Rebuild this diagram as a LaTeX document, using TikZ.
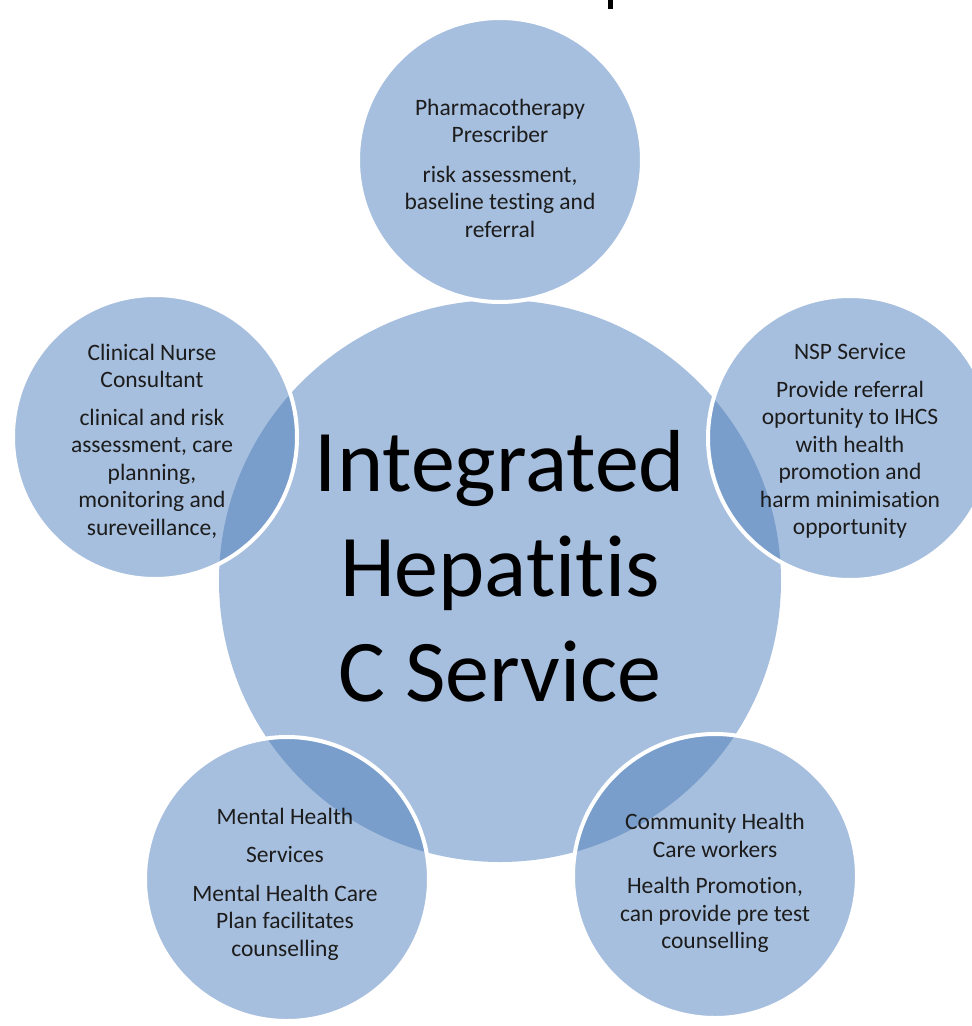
\documentclass[tikz,border=0pt]{standalone}
\usepackage{fontspec}
\setmainfont{Carlito}[Ligatures={NoCommon,NoContextual}]
\usetikzlibrary{calc}
\definecolor{hcblue}{RGB}{167,191,222}
\definecolor{hcdeep}{RGB}{122,158,203}
\definecolor{hctext}{RGB}{28,28,28}
\tikzset{
  satlabel/.style={align=center, text=hctext, inner sep=0pt, font=\fontsize{23.5}{27.5}\selectfont},
  hublabel/.style={align=center, text=black, inner sep=0pt, font=\fontsize{88}{105}\selectfont},
}
\newcommand\hcsats{500/160,155/437,850/438,287/879,715/876}

\begin{document}
\begin{tikzpicture}[x=1pt, y=-1pt, line join=round]
\useasboundingbox (0,0) rectangle (972,1026);
\coordinate (hub) at (500,581);
\fill[hcblue] (hub) circle (281pt);
\foreach \cx/\cy in \hcsats
  \fill[hcblue] (\cx,\cy) circle (142pt);
% overlaps with the hub
\begin{scope}
\clip (hub) circle (281pt);
\foreach \cx/\cy in \hcsats
  \fill[hcdeep] (\cx,\cy) circle (142pt);
\end{scope}
\foreach \cx/\cy in \hcsats
  \draw[white, line width=4pt] (\cx,\cy) circle (142pt);
% cut-off title stroke
\fill[black] (608,0) rectangle (613,9);
\node[hublabel] (hubtext) at (500,566) {Integrated\\Hepatitis\\C Service};
\node[satlabel] (pharm) at (500,168) {Pharmacotherapy\\Prescriber\\[12pt]risk assessment,\\baseline testing and\\referral};
\node[satlabel] (cnc) at (152,441) {Clinical Nurse\\Consultant\\[10pt]clinical and risk\\assessment, care\\planning,\\monitoring and\\sureveillance,};
\node[satlabel] (nsp) at (850,441) {NSP Service\\[10pt]Provide referral\\oportunity to IHCS\\with health\\promotion and\\harm minimisation\\opportunity};
\node[satlabel] (mhs) at (285,884) {Mental Health\\[11pt]Services\\[11pt]Mental Health Care\\Plan facilitates\\counselling};
\node[satlabel] (chw) at (715,883) {Community Health\\Care workers\\[9pt]Health Promotion,\\can provide pre test\\counselling};
\end{tikzpicture}
\end{document}
